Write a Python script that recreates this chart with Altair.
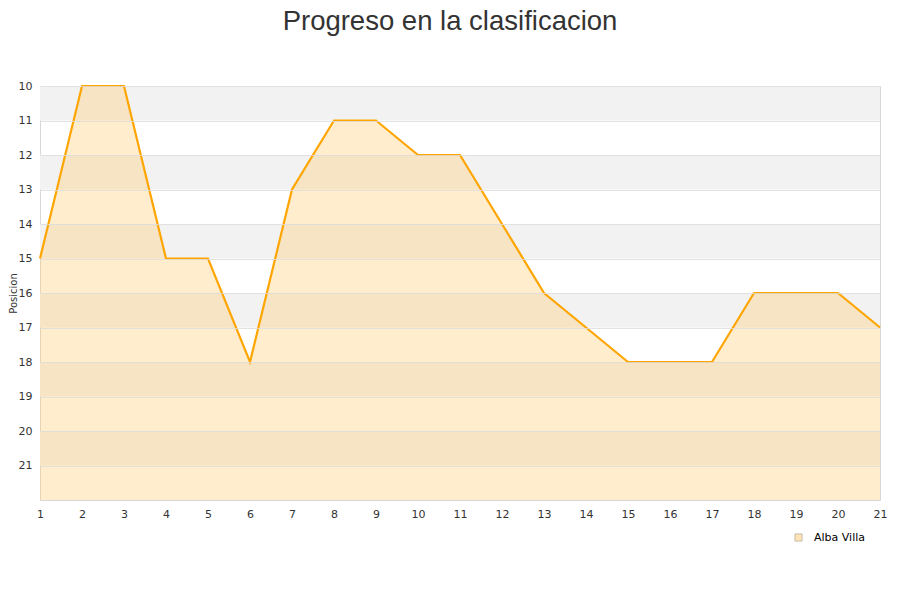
import altair as alt
import pandas as pd

jornadas = list(range(1, 22))
posiciones = [15, 10, 10, 15, 15, 18, 13, 11, 11, 12, 12, 14, 16, 17, 18, 18, 18, 16, 16, 16, 17]
equipo = "Alba Villa"
band_starts = [10, 12, 14, 16, 18, 20]
y_ticks = list(range(10, 22))

df = pd.DataFrame({"jornada": jornadas, "pos": posiciones, "equipo": equipo})
bands = pd.DataFrame({"y": band_starts, "y2": [b + 1 for b in band_starts]})

W, H = 840, 414
xs = alt.Scale(domain=[1, 21], nice=False, zero=False)
ys = alt.Scale(domain=[10, 22], reverse=True, nice=False, zero=False)

y_axis = alt.Axis(values=y_ticks, labelFontSize=11, labelColor="#333",
                  titleFontSize=10, titleColor="#333", titleFontWeight="normal",
                  grid=True, gridColor="#DCDCDC", gridOpacity=0.8, domain=False, ticks=False,
                  labelPadding=8, titlePadding=0, labelFont="DejaVu Sans",
                  titleFont="DejaVu Sans", labelOverlap=False, zindex=1, tickCount=12)
x_axis = alt.Axis(values=jornadas, labelFontSize=11, labelColor="#333",
                  grid=False, domain=False, ticks=False, labelPadding=8,
                  labelFont="DejaVu Sans", labelFlush=False, labelOverlap=False)

band_layer = alt.Chart(bands).mark_rect(color="#F2F2F2").encode(
    y=alt.Y("y:Q", scale=ys, title="Posicion", axis=y_axis),
    y2="y2:Q",
    x=alt.value(0), x2=alt.value(W),
)

area = alt.Chart(df).mark_area(opacity=0.33, interpolate="linear").encode(
    x=alt.X("jornada:Q", scale=xs, title=None, axis=x_axis),
    y=alt.Y("pos:Q", scale=ys, title="Posicion", axis=y_axis),
    y2=alt.datum(22),
    color=alt.Color("equipo:N", scale=alt.Scale(range=["#FFC867"]),
                    legend=alt.Legend(title=None, orient="none", legendX=753, legendY=446,
                                      symbolType="square", symbolSize=50,
                                      symbolStrokeColor="#8A7A5A", symbolStrokeWidth=1,
                                      symbolOpacity=0.5, labelFontSize=11, labelOffset=10,
                                      labelFont="DejaVu Sans", labelColor="#000")),
)

line = alt.Chart(df).mark_line(color="#FFA500", strokeWidth=2.2).encode(
    x=alt.X("jornada:Q", scale=xs, title=None, axis=x_axis),
    y=alt.Y("pos:Q", scale=ys, title="Posicion", axis=y_axis),
)

chart = alt.layer(band_layer, area, line).properties(
    width=W, height=H,
    autosize=alt.AutoSizeParams(type="none"),
    padding={"left": 32, "top": 78, "right": 12, "bottom": 50},
    title=alt.Title("Progreso en la clasificacion", fontSize=27.5, font="Liberation Sans",
                    fontWeight="normal", color="#333", anchor="middle", dx=-10, offset=45),
).configure_view(stroke="#D8D8D8", strokeWidth=1)

chart.save("out.html", embed_options={"renderer": "svg", "actions": False})
